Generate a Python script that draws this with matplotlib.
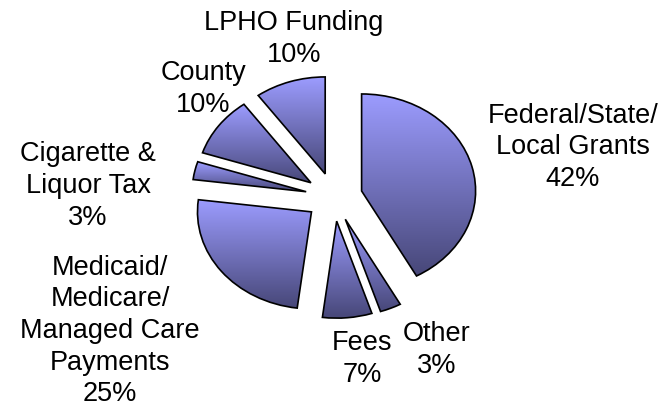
import numpy as np
import matplotlib
matplotlib.use("Agg")
import matplotlib.pyplot as plt
from matplotlib.colors import LinearSegmentedColormap

# funding sources, clockwise from 12 o'clock
categories = ["Federal/State/\nLocal Grants", "Other", "Fees",
              "Medicaid/\nMedicare/\nManaged Care\nPayments",
              "Cigarette &\nLiquor Tax", "County", "LPHO Funding"]
shares = [42, 3, 7, 25, 3, 10, 10]

# label centres in pixels (layout only)
label_pos = [(573, 147.5), (437, 350), (362, 359), (110, 331),
             (88, 186), (203, 89), (294, 39)]

W, H = 670, 409
fig = plt.figure(figsize=(W / 100, H / 100), dpi=100)
ax = fig.add_axes([0, 0, 1, 1])

wedges, _ = ax.pie(shares, startangle=90, counterclock=False,
                   explode=[0.25] * len(shares),
                   wedgeprops=dict(facecolor="none", edgecolor="black",
                                   linewidth=1.2, zorder=3))

grad_cmap = LinearSegmentedColormap.from_list("pie", ["#9C9CFF", "#474778"])
grad = np.linspace(0, 1, 256).reshape(-1, 1)
for w in wedges:
    bb = w.get_path().get_extents()
    im = ax.imshow(grad, cmap=grad_cmap, aspect="auto", origin="upper",
                   extent=(bb.x0, bb.x1, bb.y0, bb.y1), zorder=2)
    im.set_clip_path(w)

# pie is stretched horizontally in the original (rx 114px, ry 97px)
cx, cy, rx, ry = 334, 197, 114, 97
ax.set_aspect("auto")
ax.set_xlim(-cx / rx, (W - cx) / rx)
ax.set_ylim((cy - H) / ry, cy / ry)
ax.axis("off")

for name, pct, (px, py) in zip(categories, shares, label_pos):
    ax.text(px / W, 1 - py / H, f"{name}\n{pct}%", transform=ax.transAxes,
            ha="center", va="center", fontsize=19.5,
            family="Liberation Sans", linespacing=1.28)

fig.savefig("out.png", dpi=100)
